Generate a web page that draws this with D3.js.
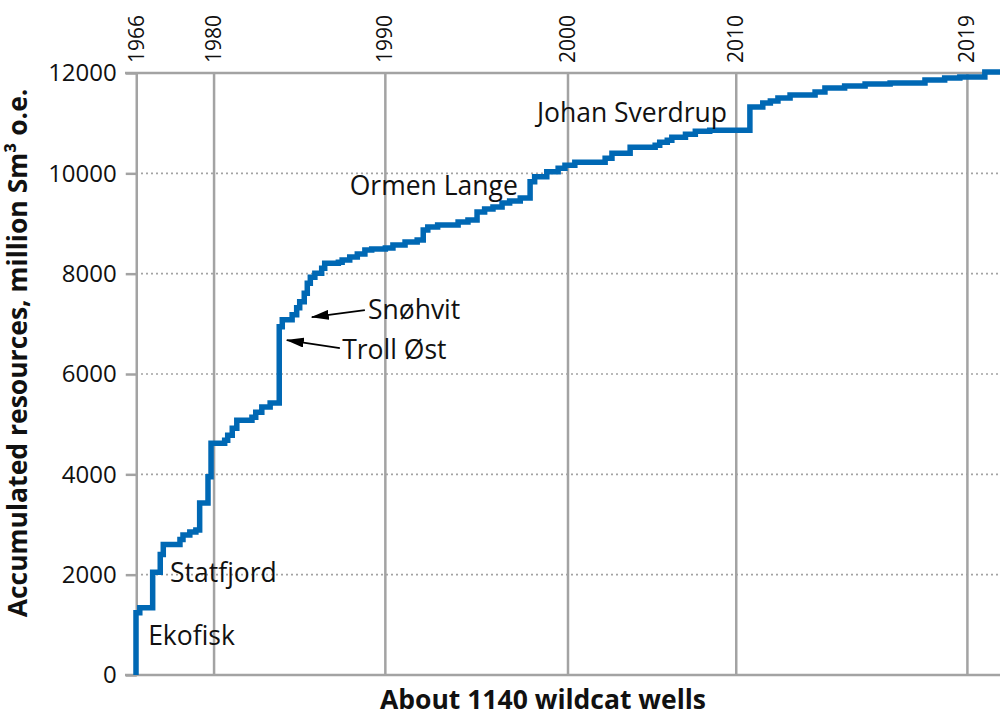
<!DOCTYPE html>
<html><head><meta charset="utf-8">
<script src="https://cdn.jsdelivr.net/npm/d3@7"></script>
<style>
html,body{margin:0;padding:0;background:#fff;}
svg{display:block;font-family:"Open Sans",sans-serif;}
</style></head>
<body><svg id="chart" width="1000" height="716"></svg>
<script>
// ---- data ----
const wells = [0,0,5,22,32,36,58,62,71,79,84,95,99,117,121,127,133,153,158,166,177,189,193,206,212,216,222,226,230,236,245,249,267,272,282,292,302,311,329,339,355,371,379,385,398,425,438,450,460,471,483,493,507,520,526,542,557,566,579,619,628,652,685,691,701,707,725,738,757,810,827,837,847,863,896,909,935,962,995,1041,1067,1087,1120,1140];
const values = [0,1240,1340,2050,2400,2600,2700,2790,2850,2890,3430,3950,4620,4680,4780,4920,5080,5140,5240,5340,5420,6940,7080,7180,7320,7440,7610,7810,7930,8010,8110,8210,8230,8270,8330,8390,8470,8490,8510,8570,8630,8670,8870,8930,8970,9030,9070,9230,9290,9330,9410,9450,9510,9830,9930,10030,10100,10160,10220,10300,10400,10520,10560,10620,10660,10720,10780,10840,10860,11320,11400,11440,11500,11560,11620,11700,11740,11780,11800,11860,11900,11920,12020,12060];
const yearLabels = ["1966","1980","1990","2000","2010","2019"];
const yearWells = [1,103,329,570,792,1097];
const yTicks = [0,2000,4000,6000,8000,10000,12000];
const fieldNames = ["Ekofisk","Statfjord","Snøhvit","Troll Øst","Ormen Lange","Johan Sverdrup"];
const fieldWells = [16,45,306,272,282,529];
const fieldValues = [777,2033,7275,6478,9747,11202];
const arrowFrom = [[302,7275],[269,6517]];
const arrowTo = [[232,7135],[199,6677]];
const xTitle = "About 1140 wildcat wells";
const yTitle = "Accumulated resources, million Sm³ o.e.";

// ---- chart ----
const svg = d3.select("#chart");
const x = d3.scaleLinear().domain([0,1140]).range([136,1000]);
const y = d3.scaleLinear().domain([0,12000]).range([675,73]);
const grid = "#a3a3a3";

svg.append("defs").append("marker")
  .attr("id","arr").attr("viewBox","0 0 18 10").attr("refX",17).attr("refY",5)
  .attr("markerWidth",18).attr("markerHeight",10).attr("markerUnits","userSpaceOnUse")
  .attr("orient","auto")
  .append("path").attr("d","M0,0 L18,5 L0,10 Z").attr("fill","#000");

// horizontal dotted gridlines
svg.append("g").selectAll("line").data(yTicks.filter(v=>v>0 && v<12000)).join("line")
  .attr("x1",x(0)).attr("x2",1000).attr("y1",d=>y(d)).attr("y2",d=>y(d))
  .attr("stroke",grid).attr("stroke-width",1.6).attr("stroke-dasharray","2,3");
// top solid line
svg.append("line").attr("x1",125).attr("x2",1000).attr("y1",y(12000)).attr("y2",y(12000))
  .attr("stroke",grid).attr("stroke-width",2.5);

// vertical year gridlines
svg.append("g").selectAll("line").data(yearWells).join("line")
  .attr("x1",d=>x(d)).attr("x2",d=>x(d)).attr("y1",y(12000)).attr("y2",y(0))
  .attr("stroke",grid).attr("stroke-width",2.5);
svg.append("g").selectAll("text").data(yearWells).join("text")
  .attr("transform",d=>`translate(${x(d)+7},63) rotate(-90)`)
  .attr("font-size",21).attr("fill","#111").text((d,i)=>yearLabels[i]);

// y axis
const yAxis = d3.axisLeft(y).tickValues(yTicks).tickSize(11).tickPadding(9).tickFormat(d3.format("d"));
const ga = svg.append("g").attr("transform",`translate(${x(1)},0)`).call(yAxis);
ga.select(".domain").remove();
ga.selectAll(".tick line").attr("stroke",grid).attr("stroke-width",2.5);
ga.selectAll(".tick text").attr("font-size",24).attr("fill","#111").attr("font-family","'Open Sans',sans-serif");

// bottom axis line
svg.append("line").attr("x1",125).attr("x2",1000).attr("y1",y(0)).attr("y2",y(0))
  .attr("stroke",grid).attr("stroke-width",2.5);

// data line
const pts = wells.map((w,i)=>[w,values[i]]);
svg.append("path").datum(pts)
  .attr("d",d3.line().x(d=>x(d[0])).y(d=>y(d[1])).curve(d3.curveStepAfter))
  .attr("fill","none").attr("stroke","#0068b4").attr("stroke-width",5.5).attr("stroke-linejoin","miter");

// annotations
svg.append("g").selectAll("text").data(fieldNames).join("text")
  .attr("x",(d,i)=>x(fieldWells[i])).attr("y",(d,i)=>y(fieldValues[i]))
  .attr("dy","0.35em").attr("font-size",26.5).attr("fill","#111").text(d=>d);
svg.append("g").selectAll("line").data(arrowFrom).join("line")
  .attr("x1",d=>x(d[0])).attr("y1",d=>y(d[1]))
  .attr("x2",(d,i)=>x(arrowTo[i][0])).attr("y2",(d,i)=>y(arrowTo[i][1]))
  .attr("stroke","#000").attr("stroke-width",1.8).attr("marker-end","url(#arr)");

// titles
svg.append("text").attr("x",543).attr("y",709).attr("text-anchor","middle")
  .attr("font-size",26.5).attr("font-weight","bold").attr("fill","#111").text(xTitle);
svg.append("text").attr("transform","translate(27,353) rotate(-90)").attr("text-anchor","middle")
  .attr("font-size",26.5).attr("font-weight","bold").attr("fill","#111").text(yTitle);
</script></body></html>
